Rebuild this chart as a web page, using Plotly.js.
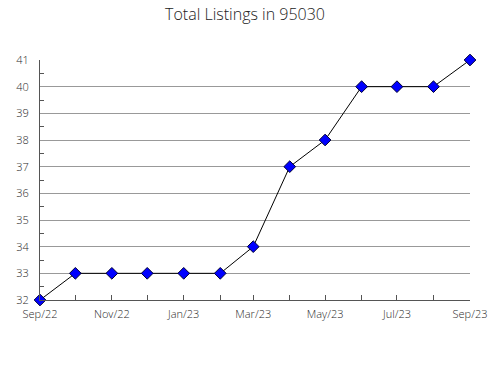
<!DOCTYPE html>
<html><head><meta charset="utf-8">
<script src="https://cdn.plot.ly/plotly-3.0.1.min.js"></script>
<style>html,body{margin:0;padding:0;background:#fff}</style>
</head><body>
<div id="chart" style="width:490px;height:380px"></div>
<script>
const months = ["2022-09-01","2022-10-01","2022-11-01","2022-12-01","2023-01-01","2023-02-01","2023-03-01","2023-04-01","2023-05-01","2023-06-01","2023-07-01","2023-08-01","2023-09-01"];
const listings = [32,33,33,33,33,33,34,37,38,40,40,40,41];
const chartTitle = "Total Listings in 95030";

Plotly.newPlot("chart", [{
  x: months, y: listings, type: "scatter", mode: "lines+markers",
  line: {color: "#000", width: 1},
  marker: {symbol: "diamond", size: 9, color: "#0000ff", line: {color: "#000033", width: 1}},
  cliponaxis: false, hoverinfo: "skip"
}], {
  width: 490, height: 380,
  margin: {l: 40, r: 20, t: 60, b: 80},
  paper_bgcolor: "#fff", plot_bgcolor: "#fff",
  font: {family: "Open Sans, sans-serif", color: "#2a2a2a", size: 11, weight: 300},
  title: {text: chartTitle, x: 0.5, xanchor: "center", y: 0.962, yanchor: "middle",
          font: {size: 16, color: "#222", weight: 300}},
  showlegend: false,
  xaxis: {type: "date", range: ["2022-09-01", "2023-09-01"], dtick: "M2", tick0: "2022-09-01",
          tickformat: "%b/%y", ticks: "inside", ticklen: 5, tickcolor: "#555", ticklabelstandoff: 4,
          showline: true, linecolor: "#555", linewidth: 1, showgrid: false, zeroline: false,
          minor: {dtick: "M1", tick0: "2022-09-01", ticks: "inside", ticklen: 5, tickcolor: "#555", showgrid: false},
          fixedrange: true},
  yaxis: {range: [32, 41], dtick: 1, ticks: "", showline: true, linecolor: "#555", linewidth: 1,
          showgrid: true, gridcolor: "#999", gridwidth: 1, zeroline: false, ticklabelstandoff: 8,
          minor: {dtick: 0.5, ticks: "inside", ticklen: 4, tickcolor: "#555", showgrid: false},
          fixedrange: true}
}, {staticPlot: true});
</script>
</body></html>
